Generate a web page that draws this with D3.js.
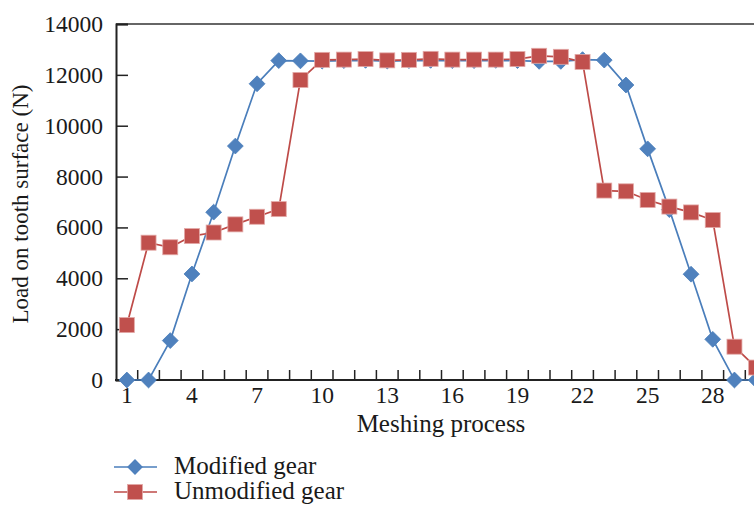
<!DOCTYPE html>
<html>
<head>
<meta charset="utf-8">
<script src="https://cdn.jsdelivr.net/npm/d3@7"></script>
<style>
  body { margin: 0; background: #fff; overflow: hidden; }
  svg { display: block; }
  text { font-family: "Liberation Serif", "Times New Roman", serif; fill: #1a1a1a; }
</style>
</head>
<body>
<div id="chart"></div>
<script>
// meshing steps on the x axis
const steps = d3.range(1, 31);
// load values (N)
const modifiedGear = [0, 0, 1550, 4170, 6600, 9200, 11650, 12560, 12550, 12540,
  12560, 12570, 12540, 12560, 12570, 12560, 12560, 12570, 12560, 12530,
  12530, 12600, 12580, 11600, 9090, 6700, 4160, 1600, 0, 0];
const unmodifiedGear = [2160, 5400, 5220, 5660, 5800, 6120, 6420, 6720, 11800, 12590,
  12600, 12620, 12570, 12590, 12630, 12600, 12600, 12600, 12620, 12750,
  12710, 12510, 7450, 7420, 7080, 6820, 6590, 6290, 1310, 490];
const yTicks = [0, 2000, 4000, 6000, 8000, 10000, 12000, 14000];

const width = 754, height = 506;
const plotLeft = 116, plotTop = 24, plotBottom = 380;
const bandW = 21.7;

const svg = d3.select("#chart").append("svg")
  .attr("width", width)
  .attr("height", height);

// scales
const x = d3.scaleBand()
  .domain(steps)
  .range([plotLeft, plotLeft + steps.length * bandW])
  .paddingInner(0).paddingOuter(0);
const y = d3.scaleLinear().domain([0, 14000]).range([plotBottom, plotTop]);
const cx = d => x(d) + x.bandwidth() / 2;

// top border of plot area
svg.append("line")
  .attr("x1", plotLeft).attr("x2", x.range()[1])
  .attr("y1", plotTop).attr("y2", plotTop)
  .attr("stroke", "#333").attr("stroke-width", 1.5);

// y axis, ticks point inward
const yAxis = svg.append("g")
  .attr("transform", `translate(${plotLeft},0)`)
  .call(d3.axisRight(y).tickValues(yTicks).tickSize(12).tickFormat(""));
yAxis.select(".domain").attr("stroke", "#222").attr("stroke-width", 2);
yAxis.selectAll(".tick line").attr("stroke", "#222").attr("stroke-width", 1.5);

svg.append("g").selectAll("text")
  .data(yTicks)
  .join("text")
  .attr("x", 103)
  .attr("y", d => y(d) + 8)
  .attr("text-anchor", "end")
  .style("font-size", "23.5px")
  .text(d => d);

// x axis: ticks between categories, pointing up
const bounds = d3.range(0, steps.length + 1).map(i => plotLeft + i * bandW);
const xg = svg.append("g");
xg.selectAll("line.tk")
  .data(bounds.slice(1))
  .join("line")
  .attr("class", "tk")
  .attr("x1", d => d).attr("x2", d => d)
  .attr("y1", plotBottom).attr("y2", plotBottom - 10)
  .attr("stroke", "#222").attr("stroke-width", 1.5);
xg.append("line")
  .attr("x1", plotLeft - 1).attr("x2", x.range()[1])
  .attr("y1", plotBottom).attr("y2", plotBottom)
  .attr("stroke", "#222").attr("stroke-width", 2);

xg.selectAll("text")
  .data(steps.filter(d => (d - 1) % 3 === 0))
  .join("text")
  .attr("x", d => cx(d))
  .attr("y", 403)
  .attr("text-anchor", "middle")
  .style("font-size", "23.5px")
  .text(d => d);

// axis titles
svg.append("text")
  .attr("x", 441).attr("y", 432)
  .attr("text-anchor", "middle")
  .style("font-size", "25px")
  .text("Meshing process");

svg.append("text")
  .attr("transform", "translate(28,204) rotate(-90)")
  .attr("text-anchor", "middle")
  .style("font-size", "23px")
  .text("Load on tooth surface (N)");

// series
const blue = "#4a7ebb", red = "#be4b48";
const line = d3.line().x((d, i) => cx(steps[i])).y(d => y(d));

svg.append("path")
  .datum(modifiedGear)
  .attr("d", line)
  .attr("fill", "none").attr("stroke", blue).attr("stroke-width", 1.7);
svg.append("path")
  .datum(unmodifiedGear)
  .attr("d", line)
  .attr("fill", "none").attr("stroke", red).attr("stroke-width", 1.7);

const diamond = d3.symbol().type(d3.symbolSquare).size(125);
svg.append("g").selectAll("path")
  .data(modifiedGear)
  .join("path")
  .attr("d", diamond)
  .attr("transform", (d, i) => `translate(${cx(steps[i])},${y(d)}) rotate(45)`)
  .attr("fill", "#4f81bd").attr("stroke", "#4a7ebb").attr("stroke-width", 0.8);

svg.append("g").selectAll("rect")
  .data(unmodifiedGear)
  .join("rect")
  .attr("x", (d, i) => cx(steps[i]) - 7.5)
  .attr("y", d => y(d) - 7.5)
  .attr("width", 15).attr("height", 15)
  .attr("fill", "#c0504d").attr("stroke", "#e3a9a7").attr("stroke-width", 0.8);

// legend
const legend = [
  { name: "Modified gear", color: blue, fill: "#4f81bd", shape: "diamond", y: 467 },
  { name: "Unmodified gear", color: red, fill: "#c0504d", shape: "square", y: 492 }
];
const lg = svg.append("g");
legend.forEach(l => {
  lg.append("line")
    .attr("x1", 114).attr("x2", 157)
    .attr("y1", l.y).attr("y2", l.y)
    .attr("stroke", l.color).attr("stroke-width", 1.7);
  if (l.shape === "diamond") {
    lg.append("path")
      .attr("d", diamond)
      .attr("transform", `translate(135,${l.y}) rotate(45)`)
      .attr("fill", l.fill);
  } else {
    lg.append("rect")
      .attr("x", 135 - 7.5).attr("y", l.y - 7.5)
      .attr("width", 15).attr("height", 15)
      .attr("fill", l.fill).attr("stroke", "#e3a9a7").attr("stroke-width", 0.8);
  }
  lg.append("text")
    .attr("x", 174).attr("y", l.y + 7)
    .style("font-size", "25px")
    .text(l.name);
});
</script>
</body>
</html>
